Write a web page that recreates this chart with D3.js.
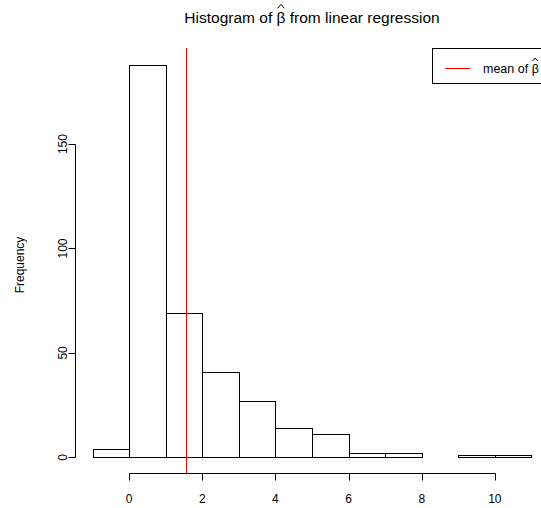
<!DOCTYPE html>
<html>
<head>
<meta charset="utf-8">
<script src="https://cdn.jsdelivr.net/npm/d3@7"></script>
<style>
  body { margin: 0; background: #fff; }
  text { font-family: "Liberation Sans", Arial, sans-serif; fill: #000; }
</style>
</head>
<body>
<div id="chart"></div>
<script>
// histogram bins (left edges, width 1) and counts
const binStarts = [-1, 0, 1, 2, 3, 4, 5, 6, 7, 8, 9, 10];
const counts = [4, 188, 69, 41, 27, 14, 11, 2, 2, 0, 1, 1];
const xTicks = [0, 2, 4, 6, 8, 10];
const yTicks = [0, 50, 100, 150];
const meanBeta = 1.56;

const width = 541, height = 508;

const svg = d3.select("#chart").append("svg")
    .attr("width", width)
    .attr("height", height);

// R style: usr range extended by 4%
const x = d3.scaleLinear().domain([-1.48, 11.48]).range([75, 549]);
const y = d3.scaleLinear().domain([-7.52, 195.52]).range([473, 49]);

// bars
svg.selectAll(".bar")
    .data(binStarts)
    .enter().append("rect")
    .attr("class", "bar")
    .attr("x", d => Math.round(x(d)) + 0.5)
    .attr("y", (d, i) => Math.round(y(counts[i])) + 0.5)
    .attr("width", d => Math.round(x(d + 1)) - Math.round(x(d)))
    .attr("height", (d, i) => Math.round(y(0)) - Math.round(y(counts[i])))
    .style("fill", "#fff")
    .style("stroke", "#000")
    .style("stroke-width", "1px");

// x axis
const xAxisY = 473.5;
svg.append("line")
    .attr("x1", Math.round(x(xTicks[0])) + 0.5)
    .attr("x2", Math.round(x(xTicks[xTicks.length - 1])) + 0.5)
    .attr("y1", xAxisY).attr("y2", xAxisY)
    .style("stroke", "#000");
svg.selectAll(".xtick")
    .data(xTicks)
    .enter().append("line")
    .attr("x1", d => Math.round(x(d)) + 0.5)
    .attr("x2", d => Math.round(x(d)) + 0.5)
    .attr("y1", xAxisY).attr("y2", xAxisY + 7)
    .style("stroke", "#000");
svg.selectAll(".xlabel")
    .data(xTicks)
    .enter().append("text")
    .attr("x", d => x(d))
    .attr("y", 503)
    .attr("text-anchor", "middle")
    .style("font-size", "12px")
    .text(d => d);

// y axis
const yAxisX = 75.5;
svg.append("line")
    .attr("x1", yAxisX).attr("x2", yAxisX)
    .attr("y1", Math.round(y(yTicks[0])) + 0.5)
    .attr("y2", Math.round(y(yTicks[yTicks.length - 1])) + 0.5)
    .style("stroke", "#000");
svg.selectAll(".ytick")
    .data(yTicks)
    .enter().append("line")
    .attr("x1", yAxisX - 7).attr("x2", yAxisX)
    .attr("y1", d => Math.round(y(d)) + 0.5)
    .attr("y2", d => Math.round(y(d)) + 0.5)
    .style("stroke", "#000");
svg.selectAll(".ylabel")
    .data(yTicks)
    .enter().append("text")
    .attr("transform", d => "translate(67," + y(d) + ") rotate(-90)")
    .attr("text-anchor", "middle")
    .style("font-size", "12px")
    .text(d => d);

svg.append("text")
    .attr("transform", "translate(24,265) rotate(-90)")
    .attr("text-anchor", "middle")
    .style("font-size", "12px")
    .text("Frequency");

// mean line
svg.append("line")
    .attr("x1", Math.round(x(meanBeta)) + 0.5)
    .attr("x2", Math.round(x(meanBeta)) + 0.5)
    .attr("y1", 48).attr("y2", 474)
    .style("stroke", "red")
    .style("stroke-width", "1px");

// hat over the beta in a text element
function addHat(textEl, idx, size) {
    const node = textEl.node();
    const x0 = node.getStartPositionOfChar(idx).x;
    const x1 = node.getEndPositionOfChar(idx).x;
    const by = node.getStartPositionOfChar(idx).y;
    const cx = (x0 + x1) / 2;
    svg.append("path")
        .attr("d", `M${cx - size * 0.22},${by - size * 0.95} L${cx},${by - size * 1.2} L${cx + size * 0.22},${by - size * 0.95}`)
        .style("fill", "none")
        .style("stroke", "#000")
        .style("stroke-width", "1px");
}

// title
const titleStr = "Histogram of β from linear regression";
const title = svg.append("text")
    .attr("x", 312)
    .attr("y", 23)
    .attr("text-anchor", "middle")
    .style("font-size", "15.5px")
    .text(titleStr);
addHat(title, titleStr.indexOf("β"), 15.5);

// legend
svg.append("rect")
    .attr("x", 432.5).attr("y", 48.5)
    .attr("width", 120).attr("height", 35)
    .style("fill", "#fff")
    .style("stroke", "#000");
svg.append("line")
    .attr("x1", 445).attr("x2", 470)
    .attr("y1", 68.5).attr("y2", 68.5)
    .style("stroke", "red");
const legStr = "mean of β";
const leg = svg.append("text")
    .attr("x", 483)
    .attr("y", 73)
    .style("font-size", "12.5px")
    .text(legStr);
addHat(leg, legStr.indexOf("β"), 12.5);
</script>
</body>
</html>
